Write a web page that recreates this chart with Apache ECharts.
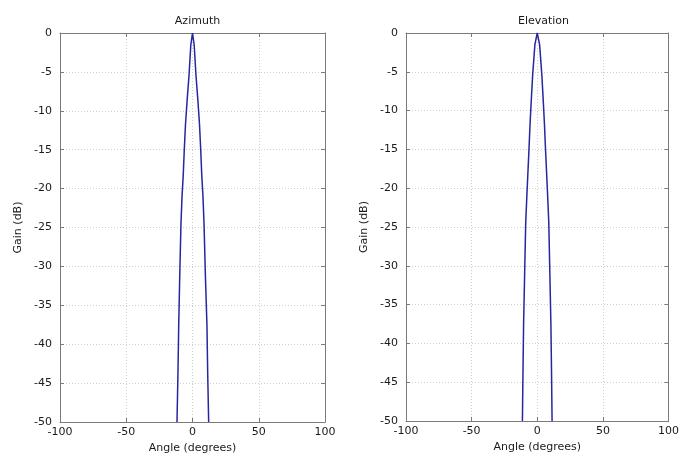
<!DOCTYPE html>
<html>
<head>
<meta charset="utf-8">
<script src="https://cdn.jsdelivr.net/npm/echarts@6/dist/echarts.min.js"></script>
<style>html,body{margin:0;padding:0;background:#fff}#c{width:682px;height:462px}</style>
</head>
<body>
<div id="c"></div>
<script>
// Azimuth pattern (angle in degrees, gain in dB)
const azAngle = [-11.7, -11, -10.4, -9.6, -8.7, -7.9, -7, -6.2, -5.3, -4, -2.6, -1.3, 0, 1.3, 2.6, 4, 5.3, 6.2, 7, 7.9, 8.7, 9.7, 10.9, 11.5, 12.2];
const azGain  = [-50, -44, -37.5, -31, -24.5, -21, -18.3, -15, -11.8, -8.5, -5.4, -1.6, 0, -1.6, -5.4, -8.5, -11.8, -15, -18.3, -21, -24.5, -31, -37.5, -44, -50];
// Elevation pattern
const elAngle = [-11.3, -10.9, -10.4, -9.6, -8.8, -8, -7.2, -6.3, -5.5, -4.5, -3.5, -1.8, 0, 1.8, 3.5, 4.5, 5.5, 6.3, 7.2, 8, 8.8, 9.6, 10.4, 10.9, 11.3];
const elGain  = [-50, -44, -37.5, -31, -24.5, -21.3, -18.3, -15, -11.8, -8.5, -5.4, -1.5, 0, -1.5, -5.4, -8.5, -11.8, -15, -18.3, -21.3, -24.5, -31, -37.5, -44, -50];
const titles = ['Azimuth', 'Elevation'];
const xTicks = [-100, -50, 0, 50, 100];
const yTicks = [0, -5, -10, -15, -20, -25, -30, -35, -40, -45, -50];

const font = '"DejaVu Sans", Arial, sans-serif';
const fs = 11;
const txt = '#1a1a1a';
const frame = '#7a7a7a';
const grids = [
  {left: 60, top: 33, width: 265, height: 389},
  {left: 406, top: 33, width: 265, height: 388}
];
const xAxes = [], yAxes = [], series = [], titleArr = [];
const pairs = [[azAngle, azGain], [elAngle, elGain]];
grids.forEach((g, i) => {
  titleArr.push({
    text: titles[i], left: g.left + g.width / 2, top: 11, textAlign: 'center',
    textStyle: {fontFamily: font, fontSize: fs, fontWeight: 'normal', color: txt}
  });
  const xBase = {
    gridIndex: i, type: 'value', min: xTicks[0], max: xTicks[xTicks.length - 1], interval: 50,
    axisLine: {show: true, onZero: false, lineStyle: {color: frame, width: 1}},
    axisTick: {show: true, inside: true, length: 4, lineStyle: {color: frame}}
  };
  xAxes.push(Object.assign({}, xBase, {
    position: 'bottom',
    name: 'Angle (degrees)', nameLocation: 'middle', nameGap: 21,
    nameTextStyle: {fontFamily: font, fontSize: fs, color: txt},
    axisLabel: {show: true, fontFamily: font, fontSize: fs, color: txt, margin: 5},
    splitLine: {show: true, lineStyle: {color: '#cfcfcf', type: [1, 2], width: 1}}
  }));
  xAxes.push(Object.assign({}, xBase, {
    position: 'top', axisLabel: {show: false}, splitLine: {show: false}
  }));
  const yBase = {
    gridIndex: i, type: 'value', min: yTicks[yTicks.length - 1], max: yTicks[0], interval: 5,
    axisLine: {show: true, onZero: false, lineStyle: {color: frame, width: 1}},
    axisTick: {show: true, inside: true, length: 4, lineStyle: {color: frame}}
  };
  yAxes.push(Object.assign({}, yBase, {
    position: 'left',
    name: 'Gain (dB)', nameLocation: 'middle', nameGap: 36, nameRotate: 90,
    nameTextStyle: {fontFamily: font, fontSize: fs, color: txt},
    axisLabel: {show: true, fontFamily: font, fontSize: fs, color: txt, margin: 8},
    splitLine: {show: true, lineStyle: {color: '#cfcfcf', type: [1, 2], width: 1}}
  }));
  yAxes.push(Object.assign({}, yBase, {
    position: 'right', axisLabel: {show: false}, splitLine: {show: false}
  }));
  const [ang, gain] = pairs[i];
  series.push({
    type: 'line', xAxisIndex: i * 2, yAxisIndex: i * 2,
    data: ang.map((a, k) => [a, gain[k]]),
    showSymbol: false, symbol: 'none', clip: true, smooth: false,
    lineStyle: {color: '#2626a0', width: 1.5},
    animation: false
  });
});

const chart = echarts.init(document.getElementById('c'), null, {renderer: 'canvas'});
chart.setOption({
  backgroundColor: '#fff',
  animation: false,
  title: titleArr,
  grid: grids,
  xAxis: xAxes,
  yAxis: yAxes,
  series: series
});
</script>
</body>
</html>
